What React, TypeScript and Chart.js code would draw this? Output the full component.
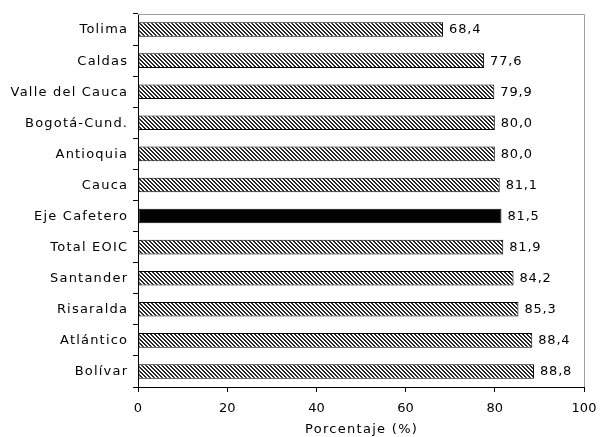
import React, { useEffect, useRef } from "react";
import { Chart, registerables } from "chart.js";

Chart.register(...registerables);

const categories = [
  "Tolima",
  "Caldas",
  "Valle del Cauca",
  "Bogotá-Cund.",
  "Antioquia",
  "Cauca",
  "Eje Cafetero",
  "Total EOIC",
  "Santander",
  "Risaralda",
  "Atlántico",
  "Bolívar",
];
const values = [68.4, 77.6, 79.9, 80.0, 80.0, 81.1, 81.5, 81.9, 84.2, 85.3, 88.4, 88.8];
const highlighted = "Eje Cafetero";
const xTicks = [0, 20, 40, 60, 80, 100];
const xTitle = "Porcentaje (%)";

const FONT = "'DejaVu Sans', Verdana, sans-serif";

function makeHatch(): CanvasPattern | string {
  const c = document.createElement("canvas");
  c.width = 4;
  c.height = 4;
  const ctx = c.getContext("2d");
  if (!ctx) return "#777";
  const img = ctx.createImageData(4, 4);
  for (let y = 0; y < 4; y++) {
    for (let x = 0; x < 4; x++) {
      const i = (y * 4 + x) * 4;
      const d = (((x - y) % 4) + 4) % 4;
      const v = d === 0 || d === 1 ? 40 : 255;
      img.data[i] = v;
      img.data[i + 1] = v;
      img.data[i + 2] = v;
      img.data[i + 3] = 255;
    }
  }
  ctx.putImageData(img, 0, 0);
  const p = ctx.createPattern(c, "repeat");
  return p || "#777";
}

export default function App() {
  const ref = useRef<HTMLCanvasElement | null>(null);

  useEffect(() => {
    document.body.style.margin = "0";
    const canvas = ref.current;
    if (!canvas) return;
    const hatch = makeHatch();
    const bg = categories.map((c) => (c === highlighted ? "#000000" : hatch));

    const texts = {
      id: "texts",
      afterDraw(chart: any) {
        const ctx = chart.ctx;
        const meta = chart.getDatasetMeta(0);
        const yScale = chart.scales.y;
        const area = chart.chartArea;
        ctx.save();
        ctx.fillStyle = "#000";
        ctx.textBaseline = "middle";

        // value labels
        ctx.font = `13px ${FONT}`;
        (ctx as any).letterSpacing = "0.8px";
        ctx.textAlign = "left";
        meta.data.forEach((el: any, i: number) => {
          const txt = values[i].toFixed(1).replace(".", ",");
          ctx.fillText(txt, el.x + 6, el.y + 0.5);
        });

        // category labels
        (ctx as any).letterSpacing = "1.2px";
        ctx.textAlign = "right";
        categories.forEach((c, i) => {
          const y = yScale.getPixelForValue(i);
          ctx.fillText(c, area.left - 11 + 1.2, y + 0.5);
        });

        // axis title
        (ctx as any).letterSpacing = "1.3px";
        ctx.textAlign = "center";
        ctx.fillText(xTitle, (area.left + area.right) / 2 + 0.6, 430);

        // top and right frame
        (ctx as any).letterSpacing = "0px";
        ctx.strokeStyle = "#a0a0a0";
        ctx.lineWidth = 1;
        ctx.beginPath();
        ctx.moveTo(area.left, area.top + 0.5);
        ctx.lineTo(area.right + 0.5, area.top + 0.5);
        ctx.lineTo(area.right + 0.5, area.bottom);
        ctx.stroke();
        ctx.restore();
      },
    };

    const chart = new Chart(canvas, {
      type: "bar",
      data: {
        labels: categories,
        datasets: [
          {
            data: values,
            backgroundColor: bg as any,
            borderColor: "#000",
            borderWidth: 1,
            borderSkipped: false,
            barPercentage: 0.47,
            categoryPercentage: 1,
          },
        ],
      },
      options: {
        indexAxis: "y",
        animation: false,
        responsive: false,
        maintainAspectRatio: false,
        layout: { padding: { top: 14, right: 18, left: 0, bottom: 0 } },
        plugins: {
          legend: { display: false },
          tooltip: { enabled: false },
        },
        scales: {
          x: {
            min: 0,
            max: 100,
            afterBuildTicks(scale: any) {
              scale.ticks = xTicks.map((v) => ({ value: v }));
            },
            afterFit(scale: any) {
              scale.height = 50;
              scale.paddingLeft = 0;
              scale.paddingRight = 0;
            },
            border: { color: "#000", width: 1 },
            grid: {
              drawOnChartArea: false,
              drawTicks: true,
              tickLength: 5,
              color: "#000",
            },
            ticks: {
              color: "#000",
              font: { family: FONT, size: 13 },
              padding: 9,
              maxRotation: 0,
            },
            title: { display: false },
          },
          y: {
            afterFit(scale: any) {
              scale.width = 138;
              scale.paddingTop = 0;
              scale.paddingBottom = 0;
            },
            border: { color: "#000", width: 1 },
            grid: {
              drawOnChartArea: false,
              drawTicks: true,
              tickLength: 5,
              color: "#000",
              offset: true,
            },
            ticks: {
              display: false,
              autoSkip: false,
            },
          },
        },
      },
      plugins: [texts],
    });
    return () => chart.destroy();
  }, []);

  return (
    <div style={{ width: 602, height: 437, position: "relative" }}>
      <canvas ref={ref} width={602} height={437} style={{ display: "block" }} />
    </div>
  );
}
